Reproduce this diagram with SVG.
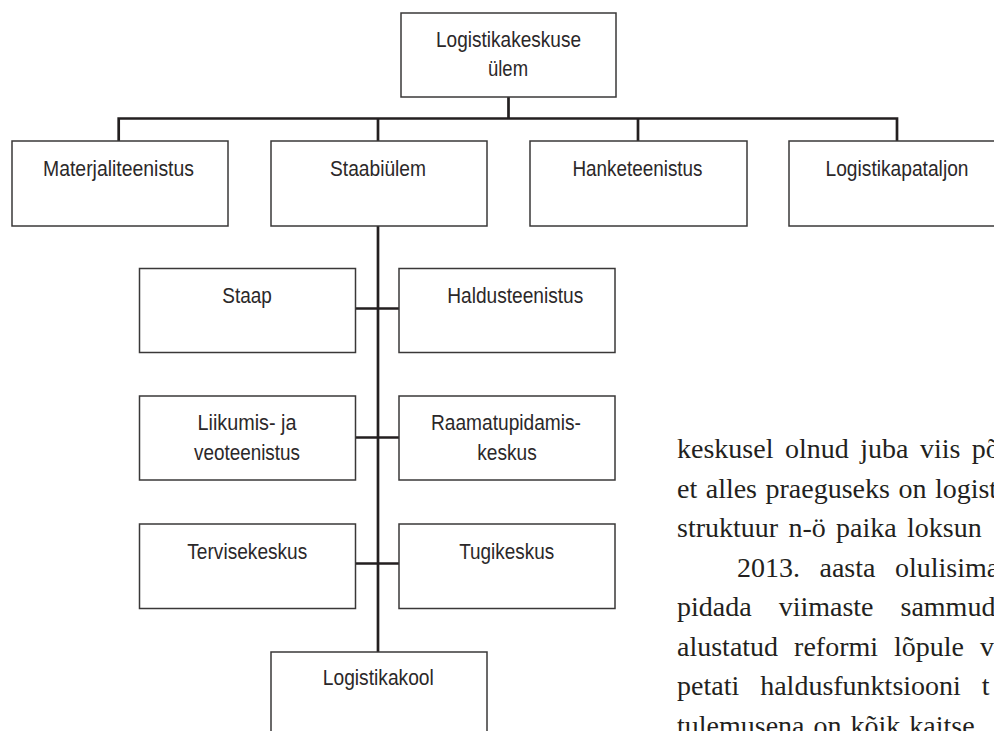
<svg xmlns="http://www.w3.org/2000/svg" width="994" height="731" viewBox="0 0 994 731">
<style>
.box{fill:#fff;stroke:#3a3838;stroke-width:1.5}
.lbl{font-family:"Liberation Sans",Arial,sans-serif;font-size:22px;fill:#2b2829;text-anchor:middle}
.con{fill:none;stroke:#231f20;stroke-width:2.7;stroke-linecap:butt}
.body{font-family:"Liberation Serif","Times New Roman",serif;font-size:28px;fill:#231f20}
</style>
<rect width="994" height="731" fill="#fff"/>
<g id="connectors">
<path class="con" d="M508.5 97V118.5M118.7 141V118.5H897V141M378 118.5V141M638 118.5V141"/>
<path class="con" d="M378 226V652"/>
<path class="con" d="M356 308.5H399M356 437.5H399M356 563.5H399"/>
</g>
<g id="n-ylem"><rect class="box" x="401" y="13" width="215" height="84"/>
<text class="lbl" x="508.5" y="47" textLength="145" lengthAdjust="spacingAndGlyphs">Logistikakeskuse</text>
<text class="lbl" x="508" y="76" textLength="40" lengthAdjust="spacingAndGlyphs">ülem</text></g>
<g id="n-materjal"><rect class="box" x="12" y="141" width="216" height="85"/>
<text class="lbl" x="118.5" y="175.5" textLength="151" lengthAdjust="spacingAndGlyphs">Materjaliteenistus</text></g>
<g id="n-staabiylem"><rect class="box" x="271" y="141" width="216" height="85"/>
<text class="lbl" x="378" y="175.5" textLength="96" lengthAdjust="spacingAndGlyphs">Staabiülem</text></g>
<g id="n-hanke"><rect class="box" x="530" y="141" width="217" height="85"/>
<text class="lbl" x="637.5" y="175.5" textLength="130" lengthAdjust="spacingAndGlyphs">Hanketeenistus</text></g>
<g id="n-pataljon"><rect class="box" x="789" y="141" width="216" height="85"/>
<text class="lbl" x="897" y="175.5" textLength="143" lengthAdjust="spacingAndGlyphs">Logistikapataljon</text></g>
<g id="n-staap"><rect class="box" x="139.5" y="268.5" width="216" height="84"/>
<text class="lbl" x="247" y="302.5" textLength="49.5" lengthAdjust="spacingAndGlyphs">Staap</text></g>
<g id="n-haldus"><rect class="box" x="399" y="268.5" width="216" height="84"/>
<text class="lbl" x="515.3" y="302.5" textLength="136" lengthAdjust="spacingAndGlyphs">Haldusteenistus</text></g>
<g id="n-liikumis"><rect class="box" x="139.5" y="396" width="216" height="84"/>
<text class="lbl" x="247" y="430" textLength="99" lengthAdjust="spacingAndGlyphs">Liikumis- ja</text>
<text class="lbl" x="247" y="460" textLength="106" lengthAdjust="spacingAndGlyphs">veoteenistus</text></g>
<g id="n-raamatu"><rect class="box" x="399" y="396" width="216" height="84"/>
<text class="lbl" x="506" y="430" textLength="150" lengthAdjust="spacingAndGlyphs">Raamatupidamis-</text>
<text class="lbl" x="507" y="460" textLength="59.5" lengthAdjust="spacingAndGlyphs">keskus</text></g>
<g id="n-tervise"><rect class="box" x="139.5" y="524" width="216" height="84.5"/>
<text class="lbl" x="247.3" y="558.5" textLength="120" lengthAdjust="spacingAndGlyphs">Tervisekeskus</text></g>
<g id="n-tugi"><rect class="box" x="399" y="524" width="216" height="84.5"/>
<text class="lbl" x="506.7" y="558.5" textLength="95" lengthAdjust="spacingAndGlyphs">Tugikeskus</text></g>
<g id="n-kool"><rect class="box" x="271" y="652" width="216" height="90"/>
<text class="lbl" x="378.3" y="685" textLength="111" lengthAdjust="spacingAndGlyphs">Logistikakool</text></g>
<g id="bodytext">
<text class="body" x="677" y="458" word-spacing="4.5">keskusel olnud juba viis põ</text>
<text class="body" x="677" y="497.5" word-spacing="1.5">et alles praeguseks on logist</text>
<text class="body" x="677" y="537" word-spacing="3.3">struktuur n-ö paika loksun</text>
<text class="body" x="737" y="576.5" word-spacing="12.5">2013. aasta olulisima</text>
<text class="body" x="677" y="616" word-spacing="20">pidada viimaste sammude</text>
<text class="body" x="677" y="655.5" word-spacing="9">alustatud reformi lõpule v</text>
<text class="body" x="677" y="695" word-spacing="14">petati haldusfunktsiooni t</text>
<text class="body" x="677" y="734.5" word-spacing="2">tulemusena on kõik kaitse</text>
</g>
</svg>
